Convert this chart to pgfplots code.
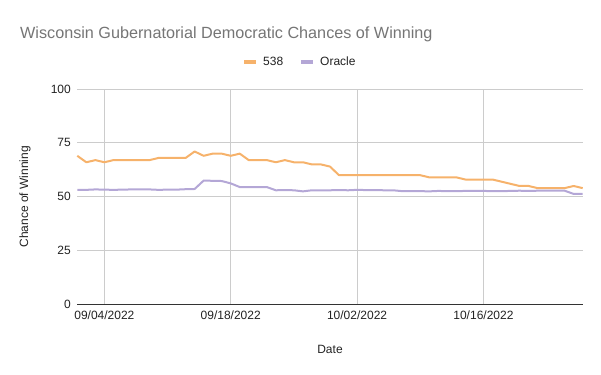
\documentclass[border=0pt]{standalone}
\usepackage{fontspec}
\setmainfont{Liberation Sans}
\usepackage{pgfplots}
\pgfplotsset{compat=1.18}
\usepackage{pgfplotstable}
\definecolor{cOrange}{HTML}{F6B26B}
\definecolor{cPurple}{HTML}{B4A7D6}
\definecolor{cGrid}{HTML}{CCCCCC}
\definecolor{cText}{HTML}{222222}
\definecolor{cTitle}{HTML}{757575}

\pgfplotstableread{
d v
-3 69
-2 66
-1 67
0 66
1 67
2 67
3 67
4 67
5 67
6 68
7 68
8 68
9 68
10 71
11 69
12 70
13 70
14 69
15 70
16 67
17 67
18 67
19 66
20 67
21 66
22 66
23 65
24 65
25 64
26 60
27 60
28 60
29 60
30 60
31 60
32 60
33 60
34 60
35 60
36 59
37 59
38 59
39 59
40 58
41 58
42 58
43 58
44 57
45 56
46 55
47 55
48 54
49 54
50 54
51 54
52 55
53 54
}\fivethirtyeight

\pgfplotstableread{
d v
-3 53.2
-2 53.2
-1 53.4
0 53.3
1 53.2
2 53.3
3 53.4
4 53.4
5 53.4
6 53.2
7 53.3
8 53.3
9 53.5
10 53.6
11 57.5
12 57.4
13 57.3
14 56.2
15 54.5
16 54.5
17 54.5
18 54.5
19 53.0
20 53.1
21 53.0
22 52.5
23 53.0
24 53.0
25 53.0
26 53.1
27 53.0
28 53.2
29 53.1
30 53.1
31 53.0
32 53.0
33 52.6
34 52.6
35 52.6
36 52.5
37 52.7
38 52.6
39 52.6
40 52.7
41 52.7
42 52.7
43 52.6
44 52.6
45 52.7
46 52.8
47 52.7
48 52.8
49 52.8
50 52.8
51 52.8
52 51.3
53 51.3
}\oracle

\begin{document}
\begin{tikzpicture}
\path[use as bounding box] (-77.3bp,-70.5bp) rectangle (523.7bp,304.5bp);
\begin{axis}[
  at={(0,0)}, anchor=south west,
  scale only axis,
  width=505.4bp, height=215.5bp,
  xmin=-3, xmax=53,
  ymin=0, ymax=100,
  xtick={0,14,28,42},
  xticklabels={09/04/2022,09/18/2022,10/02/2022,10/16/2022},
  ytick={0,25,50,75,100},
  /pgf/number format/assume math mode=true,
  axis x line=bottom, axis y line=left,
  axis line style={-},
  x axis line style={draw=black!80, line width=0.9bp},
  y axis line style={draw=none},
  major tick length=0pt,
  xmajorgrids, ymajorgrids,
  major grid style={draw=cGrid, line width=0.8bp},
  tick label style={font=\fontsize{12bp}{14bp}\selectfont, text=cText},
  xticklabel style={anchor=north, yshift=-3bp},
  yticklabel style={anchor=east, xshift=-3bp},
  xlabel={Date},
  ylabel={Chance of Winning},
  label style={font=\fontsize{12bp}{14bp}\selectfont, text=cText},
  xlabel style={at={(axis description cs:0.5,-0.2065)}, anchor=center},
  ylabel style={at={(axis description cs:-0.1035,0.5)}, anchor=center},
  title={Wisconsin Gubernatorial Democratic Chances of Winning},
  title style={at={(axis description cs:-0.1134,1.2246)}, anchor=west, inner sep=0pt,
     font=\fontsize{16.2bp}{18bp}\selectfont, text=cTitle},
  legend style={at={(axis description cs:0.4404,1.125)}, anchor=center, draw=none,
     font=\fontsize{12bp}{14bp}\selectfont, text=cText, legend columns=2,
     /tikz/every odd column/.append style={column sep=3bp},
     /tikz/every even column/.append style={column sep=14bp}},
  legend image code/.code={\draw[line width=4bp] (0bp,0bp) -- (12bp,0bp);},
  clip=false,
]
\addplot[cOrange, line width=2bp, line join=round] table[x=d,y=v] {\fivethirtyeight};
\addlegendentry{538}
\addplot[cPurple, line width=2bp, line join=round] table[x=d,y=v] {\oracle};
\addlegendentry{Oracle}
\end{axis}
\end{tikzpicture}
\end{document}
